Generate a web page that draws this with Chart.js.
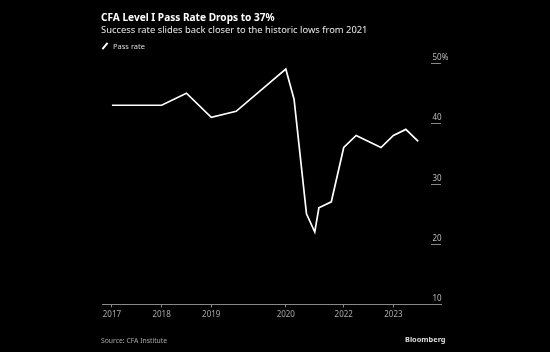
<!DOCTYPE html>
<html>
<head>
<meta charset="utf-8">
<script src="https://cdn.jsdelivr.net/npm/chart.js@4.4.1/dist/chart.umd.min.js"></script>
<style>
  html, body { margin: 0; padding: 0; background: #000; }
  body { width: 550px; height: 352px; position: relative; overflow: hidden; font-family: "Noto Sans", sans-serif; }
  #chart { position: absolute; left: 0; top: 0; }
  .txt { position: absolute; white-space: nowrap; }
  #title { left: 101px; top: 10px; font-size: 10.1px; font-weight: bold; color: #fff; }
  #subtitle { left: 101px; top: 23px; font-size: 9.4px; color: #e6e6e6; }
  #legend { left: 101px; top: 41px; font-size: 7.5px; color: #ddd; }
  #legend .icon { display: inline-block; width: 8px; height: 2px; background: #fff; transform: rotate(-50deg); vertical-align: middle; margin-right: 4px; position: relative; top: -1px; }
  #source { left: 101px; top: 336px; font-size: 6.8px; color: #aaa; }
  #brand { left: 405px; top: 334px; font-size: 7.4px; font-weight: bold; color: #ddd; }
</style>
</head>
<body>
<canvas id="chart" width="550" height="352"></canvas>
<div class="txt" id="title">CFA Level I Pass Rate Drops to 37%</div>
<div class="txt" id="subtitle">Success rate slides back closer to the historic lows from 2021</div>
<div class="txt" id="legend"><span class="icon"></span>Pass rate</div>
<div class="txt" id="source">Source: CFA Institute</div>
<div class="txt" id="brand">Bloomberg</div>
<script>
// ----- Data -----
const examDates = ["2017-06", "2017-12", "2018-06", "2018-12", "2019-06", "2019-12", "2020-12",
  "2021-02", "2021-05", "2021-07", "2021-08", "2021-11", "2022-02", "2022-05", "2022-08",
  "2022-11", "2023-02", "2023-05", "2023-08"];
const passRates = [43, 43, 43, 45, 41, 42, 49, 44, 25, 22, 26, 27, 36, 38, 37, 36, 38, 39, 37];
const xTickDates = ["2017-06", "2018-06", "2019-06", "2020-12", "2022-02", "2023-02"];
const xTickLabels = ["2017", "2018", "2019", "2020", "2022", "2023"];
const yTickValues = [10, 20, 30, 40, 50];
const yTickLabels = ["10", "20", "30", "40", "50%"];

// months since Jan 2017
function toMonths(s) {
  const [y, m] = s.split("-").map(Number);
  return (y - 2017) * 12 + (m - 1);
}

const points = examDates.map((d, i) => ({ x: toMonths(d), y: passRates[i] }));
const xTicks = xTickDates.map(toMonths);

// ----- Right-side value labels -----
const rightLabels = {
  id: "rightLabels",
  afterDraw(chart) {
    const ctx = chart.ctx;
    const y = chart.scales.y;
    const right = chart.chartArea.right;
    ctx.save();
    ctx.strokeStyle = "#888";
    ctx.lineWidth = 1;
    ctx.fillStyle = "#bbb";
    ctx.font = '8px "Noto Sans", sans-serif';
    ctx.textAlign = "left";
    ctx.textBaseline = "alphabetic";
    yTickValues.forEach((v, i) => {
      const py = Math.round(y.getPixelForValue(v)) + 0.5;
      ctx.beginPath();
      ctx.moveTo(right - 10, py);
      ctx.lineTo(right, py);
      ctx.stroke();
      ctx.fillText(yTickLabels[i], right - 8.5, py - 3.5);
    });
    ctx.restore();
  },
};

new Chart(document.getElementById("chart"), {
  type: "line",
  data: {
    datasets: [{
      label: "Pass rate",
      data: points,
      borderColor: "#fff",
      borderWidth: 1.7,
      pointRadius: 0,
      tension: 0,
    }],
  },
  options: {
    responsive: false,
    animation: false,
    layout: { padding: { left: 102, right: 109, top: 63, bottom: 29 } },
    plugins: { legend: { display: false }, tooltip: { enabled: false } },
    scales: {
      x: {
        type: "linear",
        min: 2.6,
        max: 84.5,
        afterBuildTicks: (scale) => { scale.ticks = xTicks.map((v) => ({ value: v })); },
        ticks: {
          autoSkip: false,
          maxRotation: 0,
          padding: 3,
          color: "#aaa",
          font: { family: "Noto Sans", size: 8 },
          callback: (v) => xTickLabels[xTicks.indexOf(v)],
        },
        grid: { drawOnChartArea: false, drawTicks: true, tickLength: 3, color: "#888" },
        border: { display: true, color: "#888", width: 1 },
      },
      y: { display: false, min: 10, max: 50 },
    },
  },
  plugins: [rightLabels],
});
</script>
</body>
</html>
